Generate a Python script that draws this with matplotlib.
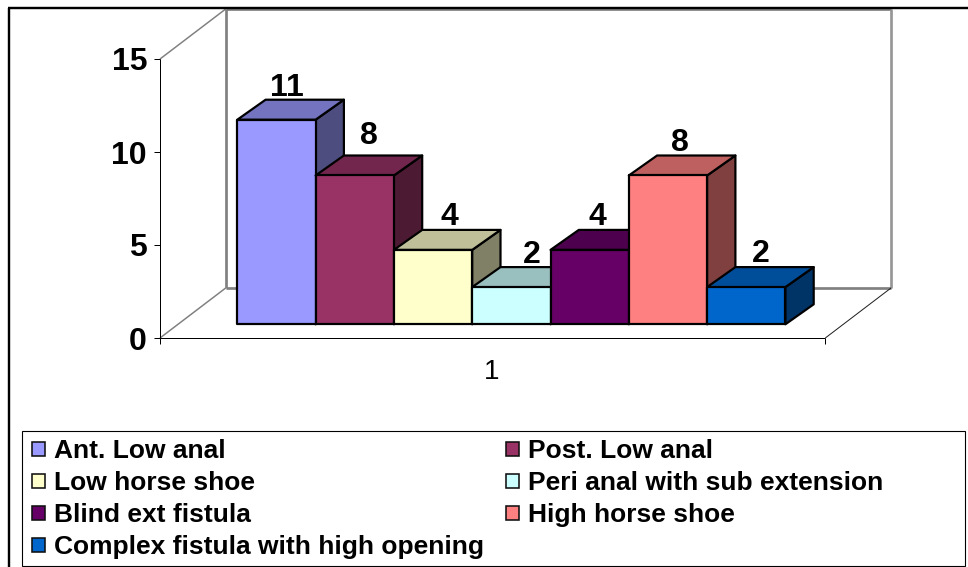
import matplotlib
matplotlib.use('Agg')
import matplotlib.pyplot as plt
from matplotlib.patches import Polygon, Rectangle

plt.rcParams['font.family'] = ['Liberation Sans', 'DejaVu Sans']

# data
categories = ['Ant. Low anal', 'Post. Low anal', 'Low horse shoe',
              'Peri anal with sub extension', 'Blind ext fistula',
              'High horse shoe', 'Complex fistula with high opening']
values = [11, 8, 4, 2, 4, 8, 2]
colors = ['#9999FF', '#993366', '#FFFFCC', '#CCFFFF', '#660066', '#FF8080', '#0066CC']
tick_values = [0, 5, 10, 15]
category_label = '1'

W, H = 968, 567
PX = 0.72  # one pixel in points at dpi 100

# pixel scale of the value axis
X0, BAR_W = 237.3, 78.3
Y0, UNIT = 324.3, 18.6

fig = plt.figure(figsize=(W / 100, H / 100), dpi=100, facecolor='white')
ax = fig.add_axes([0, 0, 1, 1])
ax.set_xlim(-X0 / BAR_W, (W - X0) / BAR_W)
ax.set_ylim((Y0 - H) / UNIT, Y0 / UNIT)
ax.axis('off')

# one pixel in data units, used for the oblique projection
px_x, px_y = 1 / BAR_W, 1 / UNIT
bar_dx, bar_dy = 28.3 * px_x, 20 * px_y
wall_dx, wall_dy = 65.7 * px_x, 50 * px_y

# front floor corners
left, right = -77.3 * px_x, 588 * px_x
floor = -13.7 * px_y


def shade(col, k):
    r, g, b = matplotlib.colors.to_rgb(col)
    return (r * k, g * k, b * k)


def line(xs, ys, color, width):
    ax.plot(xs, ys, color=color, lw=width * PX, solid_capstyle='butt', zorder=1)


# back wall and floor edges
top = 15 + floor
line([left + wall_dx, left + wall_dx], [floor + wall_dy, top + wall_dy], '#808080', 2.7)
line([left + wall_dx, right + wall_dx], [top + wall_dy, top + wall_dy], '#808080', 2.7)
line([right + wall_dx, right + wall_dx], [floor + wall_dy, top + wall_dy], '#969696', 2.7)
line([left + wall_dx, right + wall_dx], [floor + wall_dy, floor + wall_dy], '#808080', 2.7)
line([left, left + wall_dx], [floor, floor + wall_dy], '#808080', 1.5)
line([left, left + wall_dx], [top, top + wall_dy], '#808080', 1.5)
line([right, right + wall_dx], [floor, floor + wall_dy], '#202020', 1)

# front axes with tick marks
line([left, left], [floor, top], '#000000', 1)
line([left, right], [floor, floor], '#000000', 1)
line([left, left], [floor, floor - 6 * px_y], '#000000', 1)
line([right, right], [floor, floor - 6 * px_y], '#000000', 1)
for t in tick_values:
    line([left - 6 * px_x, left], [t + floor, t + floor], '#000000', 1)
    ax.text(left - 13 * px_x, t + floor, str(t), ha='right', va='center_baseline',
            fontsize=23, fontweight='bold', color='black')

ax.text(3.25, floor - 31 * px_y, category_label, ha='center', va='center_baseline',
        fontsize=20, color='black')

# bars: front, top and side faces
for i, (v, c) in enumerate(zip(values, colors)):
    z = 3 + i
    kw = dict(edgecolor='black', lw=2.2 * PX, joinstyle='round', zorder=z)
    ax.add_patch(Polygon([(i + 1, 0), (i + 1 + bar_dx, bar_dy),
                          (i + 1 + bar_dx, v + bar_dy), (i + 1, v)],
                         facecolor=shade(c, 0.5), **kw))
    ax.add_patch(Polygon([(i, v), (i + bar_dx, v + bar_dy),
                          (i + 1 + bar_dx, v + bar_dy), (i + 1, v)],
                         facecolor=shade(c, 0.75), **kw))
    ax.add_patch(Rectangle((i, 0), 1, v, facecolor=c, **kw))

# value labels sit above the back top edge of each bar
label_dx = [-4, 0, 2, 6, -6, -2, 0]
label_dy = [15, 23, 16, 16, 16, 16, 17]
for i, v in enumerate(values):
    ax.text(i + 0.5 + bar_dx / 2 + label_dx[i] * px_x, v + bar_dy + label_dy[i] * px_y,
            str(v), ha='center', va='center_baseline', fontsize=23,
            fontweight='bold', color='black', zorder=20)

# overlay in pixels for the outer frame and the legend
ov = fig.add_axes([0, 0, 1, 1], facecolor='none')
ov.set_xlim(0, W)
ov.set_ylim(H, 0)
ov.axis('off')

ov.plot([9, 9], [H, 8], color='black', lw=2.4 * PX, solid_capstyle='butt')
ov.plot([8, W], [8, 8], color='black', lw=2.4 * PX, solid_capstyle='butt')

ov.add_patch(Rectangle((21.5, 430.5), 943.5, 135, facecolor='white',
                       edgecolor='black', lw=1.1 * PX))
row_y = [448.5, 480.5, 512.5, 544.5]
for i, (name, c) in enumerate(zip(categories, colors)):
    col = i % 2
    y = row_y[i // 2]
    sx, tx = (31.5, 54.5) if col == 0 else (505.5, 528)
    ov.add_patch(Rectangle((sx, y - 7), 13.5, 14, facecolor=c, edgecolor='#111111',
                           lw=1.6 * PX))
    ov.text(tx, y, name, ha='left', va='center_baseline', fontsize=19,
            fontweight='bold', color='black')

fig.savefig('out.png', dpi=100, facecolor='white')
